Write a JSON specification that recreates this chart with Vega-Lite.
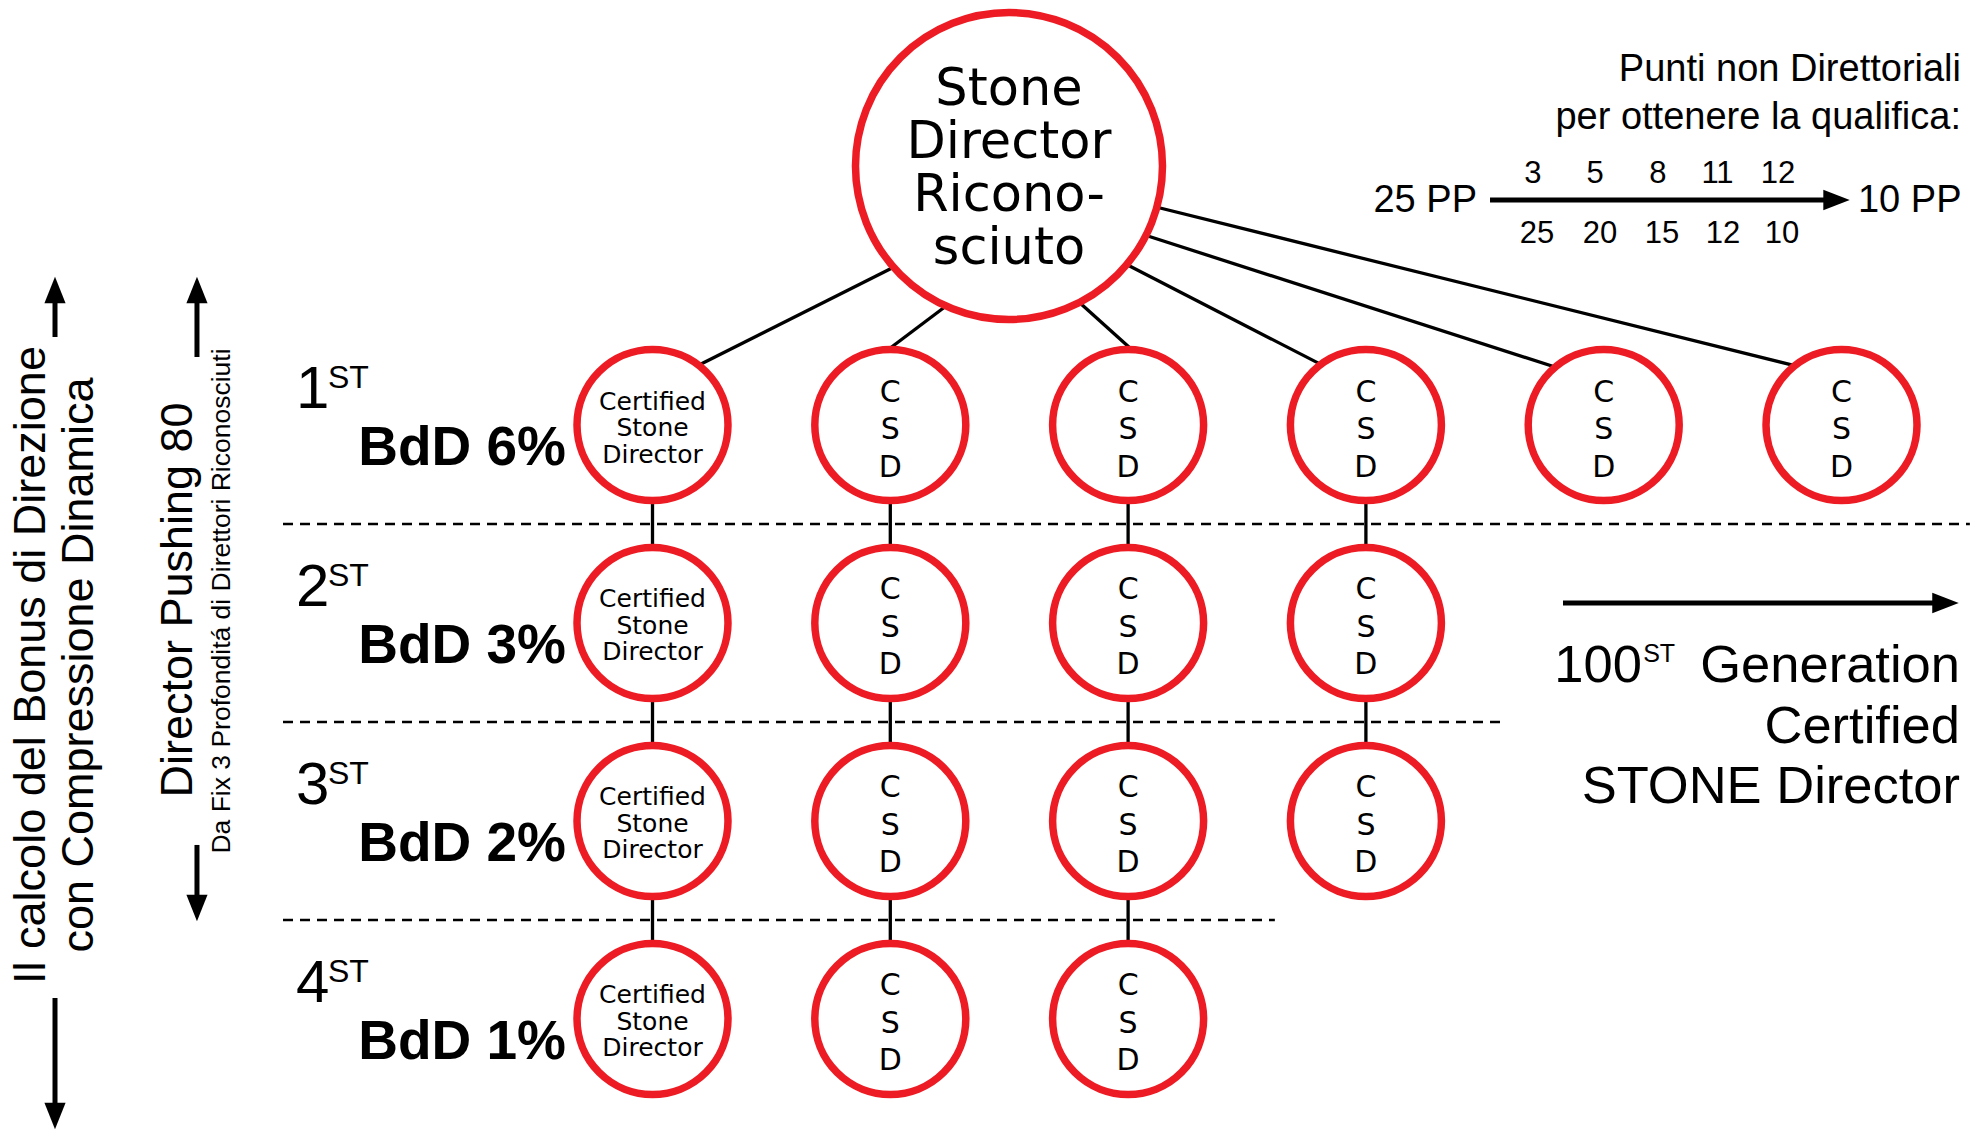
{
  "$schema": "https://vega.github.io/schema/vega-lite/v6.json",
  "width": 1983,
  "height": 1131,
  "autosize": {"type": "none"},
  "padding": 0,
  "background": "white",
  "config": {"view": {"stroke": null}},
  "datasets": {
    "nodes": [
      {"x": 0, "y": 1, "kind": "cert", "t": "Certified\nStone\nDirector"},
      {"x": 1, "y": 1, "kind": "csd", "t": "C\nS\nD"},
      {"x": 2, "y": 1, "kind": "csd", "t": "C\nS\nD"},
      {"x": 3, "y": 1, "kind": "csd", "t": "C\nS\nD"},
      {"x": 4, "y": 1, "kind": "csd", "t": "C\nS\nD"},
      {"x": 5, "y": 1, "kind": "csd", "t": "C\nS\nD"},
      {"x": 0, "y": 2, "kind": "cert", "t": "Certified\nStone\nDirector"},
      {"x": 1, "y": 2, "kind": "csd", "t": "C\nS\nD"},
      {"x": 2, "y": 2, "kind": "csd", "t": "C\nS\nD"},
      {"x": 3, "y": 2, "kind": "csd", "t": "C\nS\nD"},
      {"x": 0, "y": 3, "kind": "cert", "t": "Certified\nStone\nDirector"},
      {"x": 1, "y": 3, "kind": "csd", "t": "C\nS\nD"},
      {"x": 2, "y": 3, "kind": "csd", "t": "C\nS\nD"},
      {"x": 3, "y": 3, "kind": "csd", "t": "C\nS\nD"},
      {"x": 0, "y": 4, "kind": "cert", "t": "Certified\nStone\nDirector"},
      {"x": 1, "y": 4, "kind": "csd", "t": "C\nS\nD"},
      {"x": 2, "y": 4, "kind": "csd", "t": "C\nS\nD"}
    ],
    "gens": [
      {"x": -1.4991, "xs": -1.3646, "xb": -0.3637, "y": 1, "n": "1", "b": "BdD 6%"},
      {"x": -1.4991, "xs": -1.3646, "xb": -0.3637, "y": 2, "n": "2", "b": "BdD 3%"},
      {"x": -1.4991, "xs": -1.3646, "xb": -0.3637, "y": 3, "n": "3", "b": "BdD 2%"},
      {"x": -1.4991, "xs": -1.3646, "xb": -0.3637, "y": 4, "n": "4", "b": "BdD 1%"}
    ]
  },
  "encoding": {
    "x": {"field": "x", "type": "quantitative", "scale": {"domain": [-2.7439, 5.595], "nice": false, "zero": false}, "axis": null},
    "y": {"field": "y", "type": "quantitative", "scale": {"domain": [-1.1465, 4.5657], "nice": false, "zero": false, "reverse": true}, "axis": null}
  },
  "layer": [
    {
      "data": {"values": [
        {"x": -1.5538, "x2": 5.5398, "y": 1.5},
        {"x": -1.5538, "x2": 3.593, "y": 2.5},
        {"x": -1.5538, "x2": 2.6171, "y": 3.5}
      ]},
      "mark": {"type": "rule", "color": "black", "strokeWidth": 2.5, "strokeDash": [10, 7]},
      "encoding": {"x2": {"field": "x2"}}
    },
    {
      "data": {"values": [
        {"x": 0, "y": 1, "y2": 4},
        {"x": 1, "y": 1, "y2": 4},
        {"x": 2, "y": 1, "y2": 4},
        {"x": 3, "y": 1, "y2": 3}
      ]},
      "mark": {"type": "rule", "color": "black", "strokeWidth": 3.3},
      "encoding": {"y2": {"field": "y2"}}
    },
    {
      "data": {"values": [
        {"x": 1.0618, "y": 0.1742, "x2": 0.156, "y2": 0.7207},
        {"x": 1.2792, "y": 0.3586, "x2": 0.9609, "y2": 0.6465},
        {"x": 1.7557, "y": 0.3384, "x2": 2.05, "y2": 0.6566},
        {"x": 1.9491, "y": 0.1616, "x2": 2.8717, "y2": 0.7318},
        {"x": 2.0374, "y": 0.0278, "x2": 3.8604, "y2": 0.7323},
        {"x": 2.0837, "y": -0.1111, "x2": 4.8662, "y2": 0.7192}
      ]},
      "mark": {"type": "rule", "color": "black", "strokeWidth": 3.3},
      "encoding": {"x2": {"field": "x2"}, "y2": {"field": "y2"}}
    },
    {
      "data": {"values": [
        {"x": -2.5126, "y": 0.5556, "x2": -2.5126, "y2": 0.3687},
        {"x": -2.5126, "y": 3.894, "x2": -2.5126, "y2": 4.439},
        {"x": -1.9156, "y": 0.6566, "x2": -1.9156, "y2": 0.3687},
        {"x": -1.9156, "y": 3.121, "x2": -1.9156, "y2": 3.389},
        {"x": 3.5219, "y": -0.1364, "x2": 4.9517, "y2": -0.1364},
        {"x": 3.8288, "y": 1.899, "x2": 5.3931, "y2": 1.899}
      ]},
      "mark": {"type": "rule", "color": "black", "strokeWidth": 5},
      "encoding": {"x2": {"field": "x2"}, "y2": {"field": "y2"}}
    },
    {
      "data": {"values": [
        {"x": -2.5126, "y": 0.3182, "dir": "up"},
        {"x": -2.5126, "y": 4.49, "dir": "down"},
        {"x": -1.9156, "y": 0.3182, "dir": "up"},
        {"x": -1.9156, "y": 3.439, "dir": "down"},
        {"x": 4.979, "y": -0.1364, "dir": "right"},
        {"x": 5.4373, "y": 1.899, "dir": "right"}
      ]},
      "mark": {"type": "point", "filled": true, "color": "black", "size": 700, "opacity": 1, "strokeWidth": 0},
      "encoding": {
        "shape": {"field": "dir", "type": "nominal", "legend": null,
          "scale": {"domain": ["up", "down", "right"], "range": ["M0,-1L0.8,1L-0.8,1Z", "M0,1L0.8,-1L-0.8,-1Z", "M1,0L-1,-0.78L-1,0.78Z"]}}
      }
    },
    {
      "data": {"name": "nodes"},
      "mark": {"type": "point", "shape": "circle", "size": 22800, "fill": "white", "stroke": "#ed1c24", "strokeWidth": 7.5, "opacity": 1, "fillOpacity": 1, "strokeOpacity": 1}
    },
    {
      "data": {"values": [{"x": 1.4991, "y": -0.308}]},
      "mark": {"type": "point", "shape": "circle", "size": 94250, "fill": "white", "stroke": "#ed1c24", "strokeWidth": 7.5, "opacity": 1, "fillOpacity": 1, "strokeOpacity": 1}
    },
    {
      "data": {"name": "nodes"},
      "transform": [{"filter": "datum.kind == 'cert'"}],
      "mark": {"type": "text", "font": "DejaVu Sans", "fontSize": 25, "lineHeight": 26.5, "lineBreak": "\n", "align": "center", "baseline": "middle", "dy": -23.5, "color": "black"},
      "encoding": {"text": {"field": "t"}}
    },
    {
      "data": {"name": "nodes"},
      "transform": [{"filter": "datum.kind == 'csd'"}],
      "mark": {"type": "text", "font": "DejaVu Sans", "fontSize": 30, "lineHeight": 37.5, "lineBreak": "\n", "align": "center", "baseline": "middle", "dy": -32.5, "color": "black"},
      "encoding": {"text": {"field": "t"}}
    },
    {
      "data": {"values": [{"x": 1.4991, "y": -0.308, "t": "Stone\nDirector\nRicono-\nsciuto"}]},
      "mark": {"type": "text", "font": "DejaVu Sans", "fontSize": 51, "lineHeight": 53, "lineBreak": "\n", "align": "center", "baseline": "middle", "dy": -76, "color": "black"},
      "encoding": {"text": {"field": "t"}}
    },
    {
      "data": {"name": "gens"},
      "mark": {"type": "text", "font": "Liberation Sans", "fontSize": 60, "align": "left", "baseline": "alphabetic", "dy": -17, "color": "black"},
      "encoding": {"text": {"field": "n"}}
    },
    {
      "data": {"name": "gens"},
      "mark": {"type": "text", "font": "Liberation Sans", "fontSize": 32, "align": "left", "baseline": "alphabetic", "dy": -37, "color": "black"},
      "encoding": {"x": {"field": "xs", "type": "quantitative"}, "text": {"value": "ST"}}
    },
    {
      "data": {"name": "gens"},
      "mark": {"type": "text", "font": "Liberation Sans", "fontSize": 55, "fontWeight": "bold", "align": "right", "baseline": "alphabetic", "dy": 40, "color": "black"},
      "encoding": {"x": {"field": "xb", "type": "quantitative"}, "text": {"field": "b"}}
    },
    {
      "data": {"values": [
        {"x": -2.5546, "y": 2.2121, "t": "Il calcolo del Bonus di Direzione"},
        {"x": -2.3528, "y": 2.2121, "t": "con Compressione Dinamica"},
        {"x": -1.9365, "y": 1.8838, "t": "Director Pushing 80"}
      ]},
      "mark": {"type": "text", "font": "Liberation Sans", "fontSize": 45, "angle": 270, "align": "center", "baseline": "alphabetic", "color": "black"},
      "encoding": {"text": {"field": "t"}}
    },
    {
      "data": {"values": [
        {"x": -1.7767, "y": 1.8889, "t": "Da Fix 3 Profonditá di Direttori Riconosciuti"}
      ]},
      "mark": {"type": "text", "font": "Liberation Sans", "fontSize": 26.5, "angle": 270, "align": "center", "baseline": "alphabetic", "color": "black"},
      "encoding": {"text": {"field": "t"}}
    },
    {
      "data": {"values": [
        {"x": 5.5025, "y": -0.7374, "t": "Punti non Direttoriali"},
        {"x": 5.5025, "y": -0.4949, "t": "per ottenere la qualifica:"}
      ]},
      "mark": {"type": "text", "font": "Liberation Sans", "fontSize": 38, "align": "right", "baseline": "alphabetic", "color": "black"},
      "encoding": {"text": {"field": "t"}}
    },
    {
      "data": {"values": [{"x": 3.4672, "y": -0.0758, "t": "25 PP"}]},
      "mark": {"type": "text", "font": "Liberation Sans", "fontSize": 38, "align": "right", "baseline": "alphabetic", "color": "black"},
      "encoding": {"text": {"field": "t"}}
    },
    {
      "data": {"values": [{"x": 5.0693, "y": -0.0758, "t": "10 PP"}]},
      "mark": {"type": "text", "font": "Liberation Sans", "fontSize": 38, "align": "left", "baseline": "alphabetic", "color": "black"},
      "encoding": {"text": {"field": "t"}}
    },
    {
      "data": {"values": [
        {"x": 3.7026, "y": -0.2237, "t": "3"},
        {"x": 3.9634, "y": -0.2237, "t": "5"},
        {"x": 4.2283, "y": -0.2237, "t": "8"},
        {"x": 4.4786, "y": -0.2237, "t": "11"},
        {"x": 4.733, "y": -0.2237, "t": "12"},
        {"x": 3.7195, "y": 0.0783, "t": "25"},
        {"x": 3.9844, "y": 0.0783, "t": "20"},
        {"x": 4.2451, "y": 0.0783, "t": "15"},
        {"x": 4.5017, "y": 0.0783, "t": "12"},
        {"x": 4.7497, "y": 0.0783, "t": "10"}
      ]},
      "mark": {"type": "text", "font": "Liberation Sans", "fontSize": 31, "align": "center", "baseline": "alphabetic", "color": "black"},
      "encoding": {"text": {"field": "t"}}
    },
    {
      "data": {"values": [
        {"x": 5.4983, "y": 2.298, "t": "Generation"},
        {"x": 4.1609, "y": 2.298, "t": "100"},
        {"x": 5.4983, "y": 2.606, "t": "Certified"},
        {"x": 5.4983, "y": 2.909, "t": "STONE Director"}
      ]},
      "mark": {"type": "text", "font": "Liberation Sans", "fontSize": 52.5, "align": "right", "baseline": "alphabetic", "color": "black"},
      "encoding": {"text": {"field": "t"}}
    },
    {
      "data": {"values": [{"x": 4.1659, "y": 2.197, "t": "ST"}]},
      "mark": {"type": "text", "font": "Liberation Sans", "fontSize": 25, "align": "left", "baseline": "alphabetic", "color": "black"},
      "encoding": {"text": {"field": "t"}}
    }
  ]
}
